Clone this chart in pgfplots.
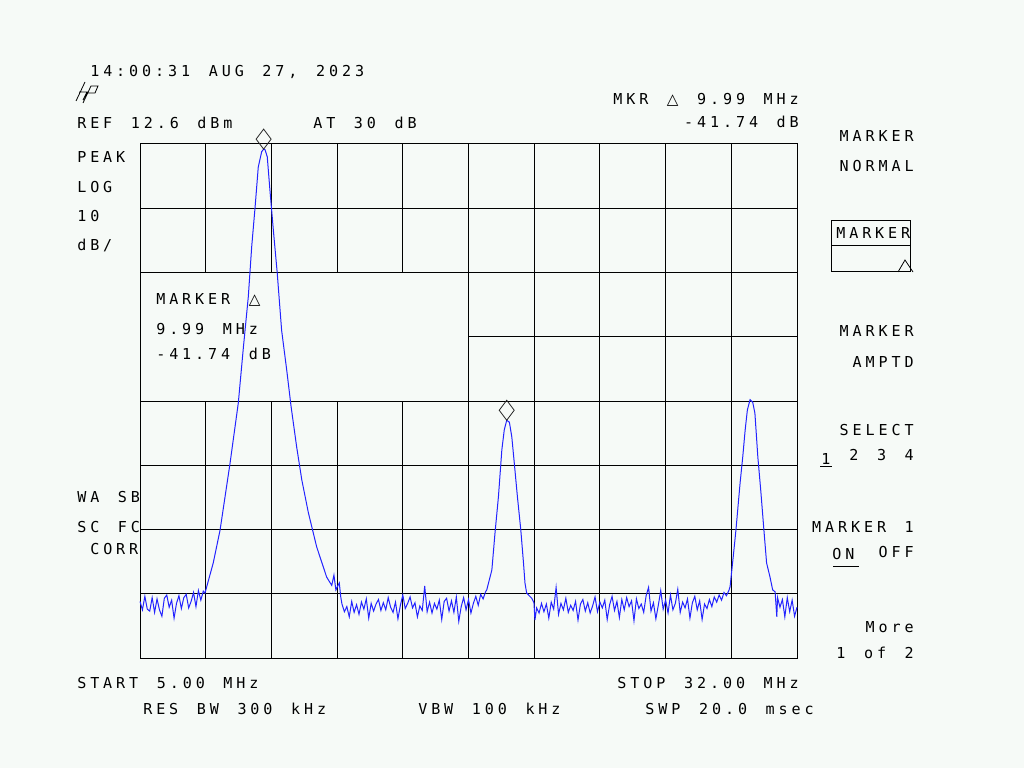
\documentclass[border=0pt]{standalone}
\usepackage{pgfplots}
\pgfplotsset{compat=1.18}
\usepackage{pgfplotstable}
\usepackage{fontspec}
\newfontfamily\hp[LetterSpace=26, WordSpace=1.43]{DejaVu Sans Mono}
\newfontfamily\hpsym{DejaVu Sans}
\definecolor{scr}{RGB}{246,250,247}
\definecolor{tr}{RGB}{35,35,255}

% trace: frequency (MHz) vs level (dBm)
\pgfplotstableread{
x y
5.0 -58.6
5.1 -59.9
5.2 -57.8
5.3 -59.8
5.4 -60.1
5.5 -58.0
5.6 -60.3
5.7 -58.2
5.8 -59.9
5.9 -60.9
6.0 -58.1
6.1 -57.6
6.2 -59.5
6.3 -58.4
6.4 -61.2
6.5 -58.9
6.6 -57.7
6.7 -59.7
6.8 -58.0
6.9 -57.5
7.0 -59.6
7.1 -58.6
7.2 -57.2
7.3 -59.4
7.4 -56.9
7.5 -58.4
7.6 -57.0
7.67 -57.3
8.01 -52.6
8.29 -47.5
8.70 -37.1
9.04 -27.7
9.25 -19.0
9.45 -11.2
9.59 -3.4
9.73 2.8
9.86 9.0
10.00 11.4
10.08 11.8
10.14 11.7
10.23 10.6
10.34 5.4
10.48 -0.8
10.64 -7.5
10.82 -16.4
11.03 -22.6
11.21 -28.3
11.44 -34.6
11.65 -39.7
11.92 -44.8
12.26 -50.1
12.67 -54.8
12.88 -56.1
12.97 -54.5
13.05 -56.8
13.19 -55.7
13.25 -57.9
13.3 -59.0
13.4 -60.2
13.5 -59.4
13.6 -61.0
13.7 -58.6
13.8 -60.3
13.9 -59.1
14.0 -60.6
14.1 -58.7
14.2 -59.8
14.3 -58.2
14.4 -61.2
14.5 -58.9
14.6 -60.1
14.7 -59.0
14.8 -58.3
14.9 -60.0
15.0 -58.8
15.1 -59.9
15.2 -58.0
15.3 -59.5
15.4 -60.3
15.5 -58.7
15.6 -61.3
15.7 -59.2
15.8 -57.6
15.9 -59.7
16.0 -58.9
16.1 -57.9
16.2 -59.6
16.3 -58.8
16.4 -61.0
16.5 -59.3
16.6 -60.0
16.7 -56.2
16.8 -60.2
16.9 -58.7
17.0 -60.4
17.1 -58.9
17.2 -59.8
17.3 -58.4
17.4 -61.4
17.5 -58.6
17.6 -58.1
17.7 -60.1
17.8 -58.5
17.9 -60.3
18.0 -57.9
18.1 -61.7
18.2 -59.4
18.3 -58.0
18.4 -59.9
18.5 -58.3
18.6 -60.4
18.7 -58.9
18.8 -57.8
18.9 -59.2
19.0 -57.5
19.1 -58.2
19.2 -57.1
19.25 -56.8
19.46 -53.7
19.59 -47.9
19.73 -42.3
19.87 -35.0
19.97 -31.9
20.07 -30.4
20.18 -30.7
20.28 -33.0
20.38 -37.0
20.51 -42.3
20.65 -47.5
20.76 -52.6
20.82 -55.7
20.89 -57.3
21.10 -58.1
21.19 -58.8
21.23 -61.5
21.3 -59.6
21.4 -60.4
21.5 -58.9
21.6 -60.2
21.7 -59.0
21.8 -61.2
21.9 -58.7
22.0 -59.8
22.1 -56.4
22.2 -60.6
22.3 -58.9
22.4 -59.9
22.5 -58.1
22.6 -60.3
22.7 -59.2
22.8 -60.0
22.9 -58.6
23.0 -61.5
23.1 -59.0
23.2 -58.3
23.3 -60.1
23.4 -58.8
23.5 -60.4
23.6 -59.3
23.7 -57.9
23.8 -60.2
23.9 -58.7
24.0 -59.6
24.1 -58.4
24.2 -61.4
24.3 -59.1
24.4 -57.8
24.5 -60.0
24.6 -58.6
24.7 -61.1
24.8 -58.3
24.9 -59.9
25.0 -58.0
25.1 -59.4
25.2 -58.5
25.3 -61.6
25.4 -58.2
25.5 -59.7
25.6 -59.0
25.7 -60.3
25.8 -57.7
25.9 -56.4
26.0 -60.1
26.1 -58.8
26.2 -61.3
26.3 -59.2
26.4 -56.9
26.5 -59.8
26.6 -58.4
26.7 -60.4
26.8 -57.6
26.9 -59.9
27.0 -58.9
27.1 -56.7
27.2 -60.3
27.3 -58.7
27.4 -59.6
27.5 -58.2
27.6 -61.2
27.7 -58.8
27.8 -57.8
27.9 -59.9
28.0 -58.5
28.1 -61.4
28.2 -59.0
28.3 -59.7
28.4 -58.3
28.5 -59.4
28.6 -57.9
28.7 -58.7
28.8 -57.6
28.9 -58.4
29.0 -57.2
29.1 -57.7
29.2 -56.9
29.25 -56.3
29.38 -51.6
29.49 -47.5
29.66 -40.2
29.77 -36.1
29.87 -31.9
29.96 -28.8
30.07 -27.2
30.18 -27.6
30.27 -29.3
30.39 -36.1
30.51 -41.3
30.64 -47.5
30.75 -52.6
30.89 -54.8
31.00 -56.8
31.10 -57.1
31.17 -61.0
31.2 -58.0
31.3 -59.5
31.4 -58.3
31.5 -61.0
31.6 -58.0
31.7 -60.2
31.8 -58.4
31.9 -60.9
32.0 -59.5
}\spectrum

\tikzset{lbl/.style={inner sep=0pt, font=\hp\fontsize{11.3}{13}\selectfont}}

\begin{document}
\begin{tikzpicture}[x=0.75pt, y=0.75pt]
\fill[scr] (0,0) rectangle (1024,768);
\useasboundingbox (0,0) rectangle (1024,768);

\begin{axis}[
    at={(105pt,82.5pt)}, anchor=south west,
    width=492.75pt, height=385.5pt, scale only axis,
    xmin=5, xmax=32, ymin=-67.4, ymax=12.6,
    xtick={5,7.7,10.4,13.1,15.8,18.5,21.2,23.9,26.6,29.3,32},
    ytick={-67.4,-57.4,-47.4,-37.4,-27.4,-17.4,-7.4,2.6,12.6},
    xticklabels={}, yticklabels={},
    major tick length=0pt,
    grid=major,
    grid style={black, line width=0.75pt},
    axis line style={black, line width=0.75pt},
    clip=false,
]
% marker readout window covers the grid
\fill[scr] (axis cs:5,-27.4) rectangle (axis cs:18.5,-7.4);
\draw[black, line width=0.75pt] (axis cs:5,-27.4) rectangle (axis cs:18.5,-7.4);

\addplot[tr, line width=0.75pt] table[x=x, y=y] {\spectrum};

% peak markers sit just above the two peaks
\addplot[only marks, mark=diamond, mark size=7.5pt,
    mark options={black!85, line width=0.6pt, yshift=7.5pt}]
    coordinates {(10.08,11.8)(20.07,-30.4)};
\end{axis}

% hp logo
\draw[black, line width=0.6pt] (76,667) -- (85,686) (79,676) -- (87,676) -- (83,668)
    (83,665) -- (91,682) -- (98,682) -- (95,675) -- (87,675);

\node[lbl, anchor=base west] at (90,691) {14:00:31 AUG 27, 2023};
\node[lbl, anchor=base west] at (77,639) {REF 12.6 dBm};
\node[lbl, anchor=base west] at (313,639) {AT 30 dB};
\node[lbl, anchor=base east] at (799,663) {MKR {\hpsym △} 9.99 MHz};
\node[lbl, anchor=base east] at (799,640) {-41.74 dB};

\node[lbl, anchor=base west] at (77,605) {PEAK};
\node[lbl, anchor=base west] at (77,575) {LOG};
\node[lbl, anchor=base west] at (77,546) {10};
\node[lbl, anchor=base west] at (77,517) {dB/};
\node[lbl, anchor=base west] at (77,265) {WA SB};
\node[lbl, anchor=base west] at (77,236) {SC FC};
\node[lbl, anchor=base west] at (90,214) {CORR};

\node[lbl, anchor=base west] at (156,463) {MARKER {\hpsym △}};
\node[lbl, anchor=base west] at (156,433) {9.99 MHz};
\node[lbl, anchor=base west] at (156,408) {-41.74 dB};

% softkeys
\node[lbl, anchor=base east] at (914,626) {MARKER};
\node[lbl, anchor=base east] at (914,596) {NORMAL};
\draw[black, line width=0.75pt] (831,496) rectangle (910,547) (831,522) -- (910,522);
\node[lbl, anchor=base west] at (836,529) {MARKER};
\draw[black, line width=0.6pt] (898,496) -- (905,508) -- (913,496);
\node[lbl, anchor=base east] at (914,431) {MARKER};
\node[lbl, anchor=base east] at (914,400) {AMPTD};
\node[lbl, anchor=base east] at (914,332) {SELECT};
\node[lbl, anchor=base west] at (821,303) {1};
\draw[black, line width=0.75pt] (820,301) -- (832,301);
\node[lbl, anchor=base east] at (914,307) {2 3 4};
\node[lbl, anchor=base east] at (914,236) {MARKER 1};
\node[lbl, anchor=base west] at (832,209) {ON};
\draw[black, line width=0.75pt] (833,202) -- (859,202);
\node[lbl, anchor=base east] at (914,211) {OFF};
\node[lbl, anchor=base east] at (914,136) {More};
\node[lbl, anchor=base east] at (914,110) {1 of 2};

\node[lbl, anchor=base west] at (77,80) {START 5.00 MHz};
\node[lbl, anchor=base east] at (799,80) {STOP 32.00 MHz};
\node[lbl, anchor=base west] at (143,54) {RES BW 300 kHz};
\node[lbl, anchor=base west] at (418,54) {VBW 100 kHz};
\node[lbl, anchor=base east] at (814,54) {SWP 20.0 msec};
\end{tikzpicture}
\end{document}
